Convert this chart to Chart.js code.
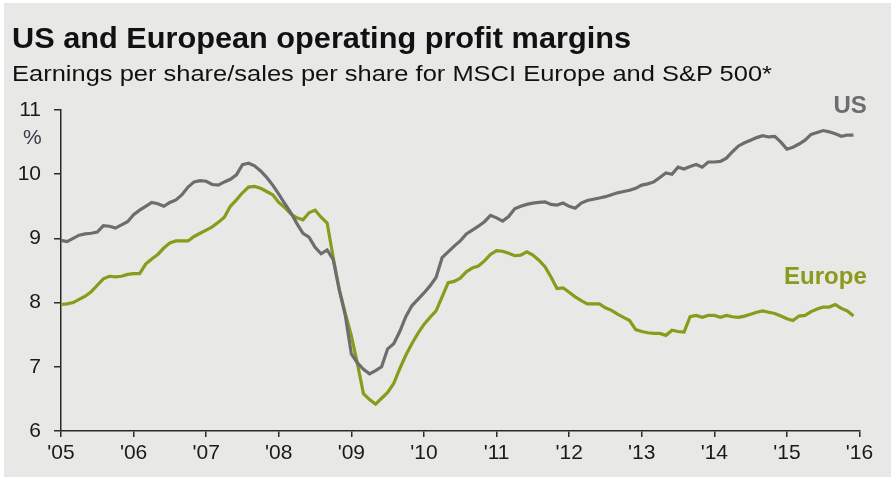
<!DOCTYPE html>
<html>
<head>
<meta charset="utf-8">
<script src="https://cdn.jsdelivr.net/npm/chart.js@4/dist/chart.umd.min.js"></script>
<style>
  html, body { margin: 0; padding: 0; background: #ffffff; }
  #wrap { position: relative; width: 895px; height: 481px; overflow: hidden; }
  #panel { position: absolute; left: 4px; top: 3px; width: 887px; height: 474px; background: #e8e8e6; }
  #chart { position: absolute; left: 0; top: 0; }
  .txt { position: absolute; white-space: nowrap; line-height: 1; transform-origin: 0 0; color: #111; }
  #title { left: 12px; top: 22px; font: bold 29px "Liberation Sans Narrow", "Arial Narrow", "Liberation Sans", sans-serif; }
  #subtitle { left: 12px; top: 61px; font: 22px "Liberation Sans Narrow", "Arial Narrow", "Liberation Sans", sans-serif; }
  #unit { left: 23px; top: 125px; font: 21px "Liberation Sans", Arial, sans-serif; color: #3a3a48; }
</style>
</head>
<body>
<div id="wrap">
  <div id="panel"></div>
  <canvas id="chart" width="895" height="481"></canvas>
  <div class="txt" id="title" data-width="619">US and European operating profit margins</div>
  <div class="txt" id="subtitle" data-width="760">Earnings per share/sales per share for MSCI Europe and S&amp;P 500*</div>
  <div class="txt" id="unit">%</div>
</div>
<script>
// Monthly readings, Jan 2005 - Dec 2015, operating margin in %
const usMargin = [
    8.97, 8.95, 9.00, 9.05, 9.07, 9.08, 9.10, 9.20, 9.19, 9.16, 9.21, 9.26,
    9.37, 9.44, 9.50, 9.56, 9.54, 9.50, 9.56, 9.60, 9.68, 9.80, 9.88, 9.90,
    9.89, 9.84, 9.83, 9.88, 9.92, 9.99, 10.15, 10.17, 10.13, 10.05, 9.95, 9.83,
    9.69, 9.54, 9.40, 9.23, 9.08, 9.02, 8.86, 8.76, 8.82, 8.67, 8.20, 7.80,
    7.20, 7.06, 6.96, 6.89, 6.94, 7.00, 7.28, 7.36, 7.55, 7.78, 7.95, 8.05,
    8.15, 8.26, 8.39, 8.70, 8.79, 8.88, 8.96, 9.07, 9.13, 9.19, 9.26, 9.36,
    9.32, 9.27, 9.34, 9.46, 9.50, 9.53, 9.55, 9.56, 9.57, 9.53, 9.52, 9.55,
    9.50, 9.47, 9.55, 9.59, 9.61, 9.63, 9.65, 9.68, 9.71, 9.73, 9.75, 9.78,
    9.83, 9.85, 9.88, 9.95, 10.02, 10.00, 10.11, 10.08, 10.12, 10.15, 10.11, 10.19,
    10.19, 10.20, 10.25, 10.35, 10.44, 10.49, 10.53, 10.57, 10.60, 10.58, 10.59, 10.50,
    10.39, 10.42, 10.47, 10.53, 10.62, 10.65, 10.68, 10.66, 10.63, 10.59, 10.61, 10.61
];

const europeMargin = [
    7.97, 7.98, 8.00, 8.05, 8.10, 8.17, 8.27, 8.37, 8.41, 8.40, 8.41, 8.44,
    8.45, 8.45, 8.60, 8.68, 8.75, 8.85, 8.93, 8.96, 8.96, 8.96, 9.03, 9.08,
    9.13, 9.18, 9.25, 9.33, 9.50, 9.60, 9.71, 9.80, 9.81, 9.78, 9.73, 9.68,
    9.56, 9.48, 9.38, 9.32, 9.29, 9.40, 9.44, 9.33, 9.24, 8.70, 8.20, 7.83,
    7.48, 7.05, 6.58, 6.49, 6.42, 6.51, 6.60, 6.74, 6.97, 7.18, 7.36, 7.52,
    7.66, 7.77, 7.87, 8.09, 8.31, 8.33, 8.38, 8.48, 8.54, 8.57, 8.65, 8.75,
    8.81, 8.80, 8.77, 8.73, 8.74, 8.79, 8.74, 8.66, 8.56, 8.40, 8.22, 8.23,
    8.16, 8.09, 8.03, 7.98, 7.98, 7.98, 7.92, 7.88, 7.82, 7.77, 7.72, 7.58,
    7.55, 7.53, 7.52, 7.52, 7.49, 7.57, 7.55, 7.54, 7.78, 7.80, 7.77, 7.80,
    7.80, 7.77, 7.80, 7.78, 7.77, 7.79, 7.82, 7.85, 7.87, 7.85, 7.83, 7.79,
    7.75, 7.72, 7.79, 7.80, 7.86, 7.90, 7.93, 7.93, 7.97, 7.91, 7.87, 7.79
];

const firstYear = 2005;
const lastYear = 2016;
const yTicks = [6, 7, 8, 9, 10, 11];
const seriesNames = ['US', 'Europe'];

const colors = {
    us: '#6d6d6d',
    europe: '#8a9a1b',
    axis: '#2a2a2a',
    text: '#1a1a1a'
};

// month positions on the year axis
const months = usMargin.map((v, i) => firstYear + i / 12);

document.addEventListener('DOMContentLoaded', function() {
    fitHeadings();
    drawChart();
});

function fitHeadings() {
    document.querySelectorAll('.txt[data-width]').forEach(el => {
        const target = parseFloat(el.getAttribute('data-width'));
        const actual = el.getBoundingClientRect().width;
        if (actual > 0) el.style.transform = 'scaleX(' + (target / actual) + ')';
    });
}

// series names drawn at the right end of each line
const seriesLabels = {
    id: 'seriesLabels',
    afterDatasetsDraw(chart) {
        const ctx = chart.ctx;
        const x = chart.scales.x;
        const y = chart.scales.y;
        ctx.save();
        ctx.font = 'bold 24px "Liberation Sans", Arial, sans-serif';
        ctx.textAlign = 'right';
        ctx.textBaseline = 'alphabetic';
        ctx.fillStyle = colors.us;
        ctx.fillText(seriesNames[0], x.getPixelForValue(2016.1), y.getPixelForValue(10.95));
        ctx.fillStyle = colors.europe;
        ctx.fillText(seriesNames[1], x.getPixelForValue(2016.1), y.getPixelForValue(8.29));
        ctx.restore();
    }
};

function drawChart() {
    const ctx = document.getElementById('chart');
    new Chart(ctx, {
        type: 'line',
        data: {
            datasets: [
                {
                    label: seriesNames[0],
                    data: months.map((m, i) => ({ x: m, y: usMargin[i] })),
                    borderColor: colors.us,
                    borderWidth: 3.2,
                    pointRadius: 0,
                    tension: 0
                },
                {
                    label: seriesNames[1],
                    data: months.map((m, i) => ({ x: m, y: europeMargin[i] })),
                    borderColor: colors.europe,
                    borderWidth: 3.2,
                    pointRadius: 0,
                    tension: 0
                }
            ]
        },
        options: {
            responsive: false,
            animation: false,
            layout: { padding: { top: 110, right: 35.5, bottom: 0, left: 0 } },
            plugins: {
                legend: { display: false },
                tooltip: { enabled: false }
            },
            scales: {
                x: {
                    type: 'linear',
                    min: firstYear,
                    max: lastYear,
                    afterFit: scale => { scale.height = 50; },
                    ticks: {
                        stepSize: 1,
                        padding: 4,
                        color: colors.text,
                        font: { family: '"Liberation Sans", Arial, sans-serif', size: 21 },
                        callback: v => "'" + String(v).slice(2)
                    },
                    grid: { drawOnChartArea: false, tickLength: 6, color: colors.axis, lineWidth: 1.5 },
                    border: { color: colors.axis, width: 1.5 }
                },
                y: {
                    min: yTicks[0],
                    max: yTicks[yTicks.length - 1],
                    afterFit: scale => { scale.width = 61; },
                    afterBuildTicks: scale => { scale.ticks = yTicks.map(v => ({ value: v })); },
                    ticks: {
                        padding: 13,
                        color: colors.text,
                        font: { family: '"Liberation Sans", Arial, sans-serif', size: 21 }
                    },
                    grid: { drawOnChartArea: false, tickLength: 7, color: colors.axis, lineWidth: 1.5 },
                    border: { color: colors.axis, width: 1.5 }
                }
            }
        },
        plugins: [seriesLabels]
    });
}
</script>
</body>
</html>
